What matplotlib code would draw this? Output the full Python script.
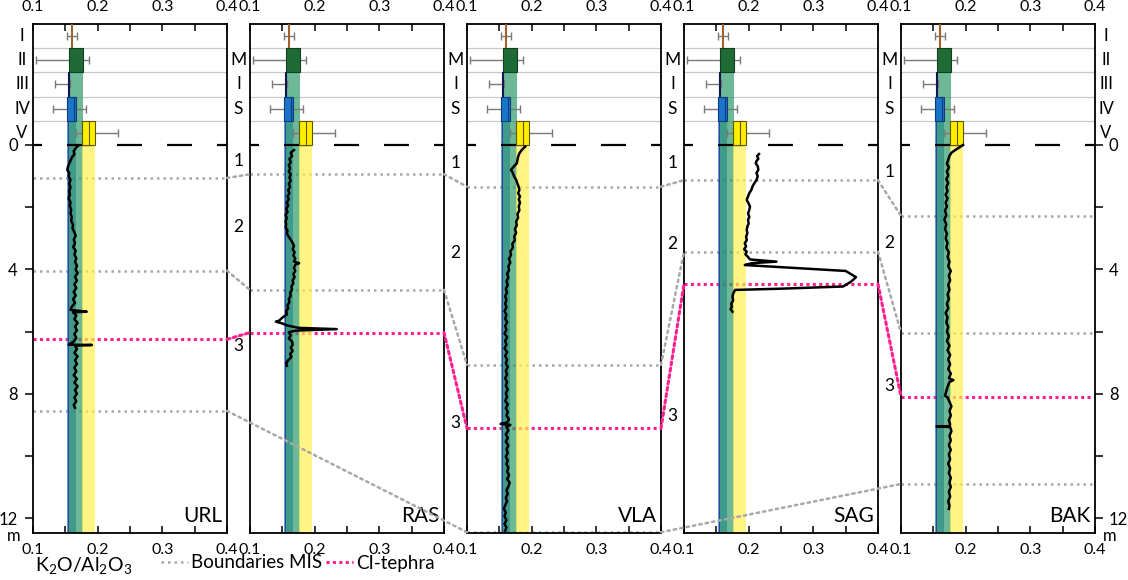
import numpy as np
import matplotlib.pyplot as plt
from matplotlib.patches import Rectangle, ConnectionPatch
from matplotlib.lines import Line2D
from matplotlib.transforms import blended_transform_factory

plt.rcParams['font.family'] = ['Lato', 'DejaVu Sans']
plt.rcParams['mathtext.fontset'] = 'custom'
plt.rcParams['mathtext.rm'] = 'Lato'
plt.rcParams['mathtext.it'] = 'Lato:italic'
plt.rcParams['mathtext.bf'] = 'Lato:bold'

DPI = 100

sites = ['URL', 'RAS', 'VLA', 'SAG', 'BAK']

# reference groups I-V (K2O/Al2O3): box q1, median, q3, whisker ends
groups = ['I', 'II', 'III', 'IV', 'V']
grp_q1 = [0.1588, 0.1557, 0.1537, 0.1521, 0.1753]
grp_med = [None, None, None, 0.1635, 0.1860]
grp_q3 = [0.1602, 0.1778, 0.1561, 0.1660, 0.1959]
grp_lo = [0.1530, 0.1046, 0.1340, 0.1314, 0.1665]
grp_hi = [0.1685, 0.1870, 0.1570, 0.1820, 0.2310]

# MIS boundaries (m) per site, NaN = not reached in that profile
mis_b1 = [1.06, 0.94, 1.34, 1.13, 2.28]
mis_b2 = [4.04, 4.66, 7.07, 3.43, 6.03]
mis_b3 = [8.55, np.nan, 12.45, np.nan, 10.90]
ci_tephra = [6.25, 6.03, 9.11, 4.47, 8.09]

# MIS numbers written between the columns (depth of each label, m)
mis_numbers = ['1', '2', '3']
mis_label_depth = [[0.51, 2.64, 6.46],
                   [0.58, 3.47, 8.94],
                   [0.58, 3.18, 8.71],
                   [0.87, 3.15, 7.75]]

# K2O/Al2O3 profiles
url_depth = [0.02, 0.10, 0.20, 0.30, 0.40, 0.50, 0.60, 0.70, 0.80, 0.90, 1.00, 1.12, 1.24,
             1.36, 1.48, 1.60, 1.72, 1.84, 1.96, 2.08, 2.20, 2.32, 2.44, 2.56, 2.68, 2.80,
             2.92, 3.04, 3.16, 3.28, 3.40, 3.52, 3.64, 3.76, 3.88, 4.00, 4.12, 4.24, 4.36,
             4.48, 4.60, 4.72, 4.84, 4.96, 5.08, 5.20, 5.30, 5.36, 5.38, 5.48, 5.60, 5.72,
             5.84, 5.96, 6.08, 6.20, 6.32, 6.42, 6.43, 6.45, 6.56, 6.68, 6.80, 6.92, 7.04,
             7.16, 7.28, 7.40, 7.52, 7.64, 7.76, 7.88, 8.00, 8.12, 8.24, 8.36, 8.45]
url_val = [0.170, 0.166, 0.163, 0.164, 0.160, 0.158, 0.156, 0.154, 0.153, 0.156, 0.155, 0.158, 0.156,
           0.158, 0.156, 0.157, 0.155, 0.158, 0.157, 0.159, 0.158, 0.160, 0.159, 0.162, 0.161, 0.164,
           0.166, 0.163, 0.165, 0.162, 0.166, 0.164, 0.167, 0.165, 0.168, 0.166, 0.169, 0.165, 0.168,
           0.164, 0.167, 0.163, 0.166, 0.162, 0.165, 0.160, 0.158, 0.183, 0.162, 0.167, 0.164, 0.169,
           0.165, 0.168, 0.164, 0.167, 0.163, 0.155, 0.191, 0.165, 0.168, 0.164, 0.169, 0.165, 0.168,
           0.164, 0.167, 0.163, 0.168, 0.164, 0.169, 0.165, 0.168, 0.164, 0.167, 0.163, 0.165]

ras_depth = [0.16, 0.25, 0.35, 0.45, 0.55, 0.65, 0.75, 0.85, 0.95, 1.05, 1.15, 1.25, 1.35,
             1.45, 1.55, 1.65, 1.75, 1.85, 1.95, 2.05, 2.15, 2.25, 2.35, 2.45, 2.55, 2.65,
             2.75, 2.85, 2.95, 3.05, 3.15, 3.25, 3.35, 3.45, 3.55, 3.65, 3.75, 3.80, 3.85,
             3.95, 4.05, 4.15, 4.25, 4.35, 4.45, 4.55, 4.65, 4.75, 4.85, 4.95, 5.05, 5.15,
             5.25, 5.35, 5.45, 5.55, 5.65, 5.68, 5.74, 5.80, 5.88, 5.92, 5.97, 6.02, 6.12,
             6.22, 6.32, 6.42, 6.52, 6.62, 6.72, 6.82, 6.92, 7.02, 7.10]
ras_val = [0.168, 0.163, 0.165, 0.161, 0.163, 0.160, 0.162, 0.160, 0.163, 0.161, 0.163, 0.160, 0.162,
           0.159, 0.161, 0.158, 0.160, 0.157, 0.159, 0.156, 0.158, 0.155, 0.157, 0.155, 0.156, 0.155,
           0.158, 0.157, 0.160, 0.163, 0.166, 0.168, 0.166, 0.169, 0.167, 0.170, 0.168, 0.176, 0.170,
           0.168, 0.170, 0.167, 0.169, 0.166, 0.167, 0.164, 0.165, 0.162, 0.163, 0.160, 0.161, 0.158,
           0.159, 0.156, 0.157, 0.150, 0.145, 0.140, 0.150, 0.157, 0.175, 0.234, 0.170, 0.160, 0.163,
           0.160, 0.165, 0.166, 0.163, 0.166, 0.162, 0.164, 0.159, 0.156, 0.157]

vla_depth = [0.05, 0.15, 0.27, 0.38, 0.48, 0.59, 0.70, 0.80, 0.90, 1.02, 1.12, 1.24, 1.35,
             1.45, 1.55, 1.65, 1.75, 1.85, 1.98, 2.10, 2.22, 2.34, 2.46, 2.58, 2.70, 2.82,
             2.94, 3.06, 3.18, 3.30, 3.42, 3.54, 3.66, 3.78, 3.90, 4.02, 4.14, 4.26, 4.38,
             4.50, 4.62, 4.74, 4.86, 4.98, 5.10, 5.22, 5.34, 5.46, 5.58, 5.70, 5.82, 5.94,
             6.06, 6.18, 6.30, 6.42, 6.54, 6.66, 6.78, 6.90, 7.02, 7.14, 7.26, 7.38, 7.50,
             7.62, 7.74, 7.86, 7.98, 8.10, 8.22, 8.34, 8.46, 8.58, 8.70, 8.82, 8.92, 8.97,
             9.00, 9.06, 9.18, 9.30, 9.42, 9.54, 9.66, 9.78, 9.90, 10.02, 10.14, 10.26, 10.38,
             10.50, 10.62, 10.74, 10.86, 10.98, 11.10, 11.22, 11.34, 11.46, 11.58, 11.70,
             11.82, 11.94, 12.06, 12.18, 12.30, 12.40]
vla_val = [0.190, 0.185, 0.181, 0.179, 0.178, 0.177, 0.172, 0.168, 0.171, 0.173, 0.176, 0.178, 0.180,
           0.181, 0.179, 0.182, 0.180, 0.182, 0.180, 0.181, 0.178, 0.179, 0.176, 0.177, 0.174, 0.176,
           0.173, 0.174, 0.170, 0.171, 0.167, 0.168, 0.165, 0.167, 0.164, 0.165, 0.162, 0.164, 0.161,
           0.163, 0.160, 0.162, 0.159, 0.161, 0.159, 0.161, 0.158, 0.161, 0.159, 0.162, 0.159, 0.161,
           0.158, 0.162, 0.159, 0.161, 0.158, 0.162, 0.159, 0.162, 0.160, 0.163, 0.160, 0.162, 0.159,
           0.162, 0.160, 0.163, 0.160, 0.162, 0.159, 0.163, 0.160, 0.163, 0.161, 0.165, 0.162, 0.152,
           0.167, 0.161, 0.164, 0.160, 0.163, 0.160, 0.164, 0.161, 0.163, 0.160, 0.163, 0.161, 0.164,
           0.162, 0.165, 0.162, 0.166, 0.164, 0.161, 0.163, 0.160, 0.162, 0.159, 0.157,
           0.160, 0.158, 0.161, 0.158, 0.161, 0.159]

sag_depth = [0.29, 0.36, 0.44, 0.52, 0.59, 0.68, 0.80, 0.90, 1.00, 1.13, 1.22, 1.33, 1.45,
             1.55, 1.65, 1.77, 1.88, 1.98, 2.09, 2.20, 2.31, 2.41, 2.52, 2.62, 2.73, 2.84,
             2.95, 3.06, 3.16, 3.26, 3.35, 3.43, 3.52, 3.60, 3.68, 3.75, 3.80, 3.86, 4.05,
             4.20, 4.25, 4.40, 4.55, 4.62, 4.66, 4.78, 4.88, 5.00, 5.10, 5.20, 5.28, 5.36]
sag_val = [0.216, 0.213, 0.215, 0.212, 0.211, 0.214, 0.215, 0.212, 0.214, 0.212, 0.209, 0.206, 0.204,
           0.201, 0.199, 0.197, 0.200, 0.202, 0.201, 0.199, 0.201, 0.199, 0.200, 0.198, 0.197, 0.198,
           0.196, 0.197, 0.194, 0.196, 0.193, 0.197, 0.195, 0.199, 0.202, 0.243, 0.205, 0.194, 0.350,
           0.362, 0.366, 0.358, 0.346, 0.250, 0.179, 0.176, 0.175, 0.176, 0.173, 0.174, 0.172, 0.175]

bak_depth = [0.00, 0.08, 0.16, 0.25, 0.35, 0.48, 0.60, 0.72, 0.85, 0.98, 1.10, 1.22, 1.35,
             1.48, 1.60, 1.72, 1.85, 1.98, 2.10, 2.25, 2.40, 2.55, 2.70, 2.85, 3.00, 3.15,
             3.30, 3.45, 3.60, 3.75, 3.90, 4.05, 4.20, 4.35, 4.50, 4.65, 4.80, 4.95, 5.10,
             5.25, 5.40, 5.55, 5.70, 5.85, 6.00, 6.15, 6.30, 6.45, 6.60, 6.75, 6.90, 7.05,
             7.20, 7.35, 7.50, 7.56, 7.62, 7.78, 7.92, 8.06, 8.12, 8.26, 8.40, 8.55, 8.70,
             8.85, 8.98, 9.04, 9.05, 9.07, 9.20, 9.35, 9.50, 9.65, 9.80, 9.95, 10.10, 10.25,
             10.40, 10.55, 10.70, 10.85, 11.00, 11.15, 11.30, 11.45, 11.60, 11.70]
bak_val = [0.196, 0.190, 0.184, 0.178, 0.175, 0.173, 0.171, 0.174, 0.171, 0.173, 0.170, 0.173, 0.170,
           0.172, 0.169, 0.172, 0.169, 0.171, 0.168, 0.170, 0.167, 0.170, 0.168, 0.171, 0.169, 0.172,
           0.170, 0.174, 0.172, 0.175, 0.173, 0.177, 0.174, 0.176, 0.173, 0.175, 0.172, 0.174, 0.171,
           0.173, 0.169, 0.172, 0.170, 0.173, 0.171, 0.174, 0.171, 0.175, 0.172, 0.176, 0.173, 0.176,
           0.173, 0.177, 0.174, 0.181, 0.175, 0.172, 0.170, 0.168, 0.172, 0.175, 0.178, 0.175, 0.177,
           0.174, 0.176, 0.175, 0.155, 0.176, 0.178, 0.175, 0.177, 0.174, 0.177, 0.174, 0.176, 0.173,
           0.176, 0.174, 0.177, 0.175, 0.177, 0.174, 0.176, 0.173, 0.175, 0.174]

prof_depth = [url_depth, ras_depth, vla_depth, sag_depth, bak_depth]
prof_val = [url_val, ras_val, vla_val, sag_val, bak_val]

# colours of the reference groups
box_face = ['#a0622d', '#1e6b35', '#1a237e', '#1a74c9', '#ffee00']
box_edge = ['#a0622d', '#123f20', '#10164f', '#0d3d7a', '#5e5600']
band_col = [None, '#2f9a6a', '#1a237e', '#1f6fc0', '#fff050']
band_alpha = [0, 0.7, 0.7, 0.7, 0.7]
band_order = [3, 2, 1, 4]
mis_col = '#a8a8a8'
ci_col = '#ff1f8f'
mis_ls = (0, (1, 1.6))
ci_ls = (0, (1, 1.1))

# layout in pixels of the original figure
W, H = 1128, 580
left_px = [33, 250, 467, 684, 901]
w_px = 194
top_px, bot_px, zero_px = 24, 533, 145
px_per_m = 31.1
y_top = -(zero_px - top_px) / px_per_m
y_bot = (bot_px - zero_px) / px_per_m
row_h = -y_top / 5

fig = plt.figure(figsize=(W / DPI, H / DPI), dpi=DPI)
axes = []
for lp in left_px:
    ax = fig.add_axes([lp / W, (H - bot_px) / H, w_px / W, (bot_px - top_px) / H])
    axes.append(ax)

for k, (ax, site) in enumerate(zip(axes, sites)):
    ax.set_xlim(0.1, 0.4)
    ax.set_ylim(y_bot, y_top)

    # separators of the reference rows
    for i in range(1, 5):
        ax.axhline(y_top + i * row_h, color='#c8c8c8', lw=0.9, zorder=0.8)

    # IQR bands running down through the profile
    for i in band_order:
        ax.fill_betweenx([y_top + i * row_h, y_bot], grp_q1[i], grp_q3[i],
                         color=band_col[i], alpha=band_alpha[i], lw=0, zorder=1)

    # whiskers and boxes of the reference groups
    for i in range(5):
        yc = y_top + (i + 0.5) * row_h
        xc = (grp_q1[i] + grp_q3[i]) / 2
        ax.errorbar(xc, yc, xerr=[[xc - grp_lo[i]], [grp_hi[i] - xc]], fmt='none',
                    ecolor='#7a7a7a', elinewidth=1.0, capsize=3, capthick=1.0, zorder=2.5)
        ax.add_patch(Rectangle((grp_q1[i], y_top + i * row_h), grp_q3[i] - grp_q1[i], row_h,
                               facecolor=box_face[i], edgecolor=box_edge[i], lw=0.8, zorder=3))
        if grp_med[i] is not None:
            ax.plot([grp_med[i]] * 2, [y_top + i * row_h, y_top + (i + 1) * row_h],
                    color=box_edge[i], lw=0.8, zorder=3.1)

    # top of the profiles
    ax.plot([0.1, 0.4], [0, 0], color='black', lw=1.6, linestyle=(7.2, (11.25, 11.25)), zorder=2)

    # MIS boundaries and CI tephra
    for chain, col, ls, lw in [(mis_b1, mis_col, mis_ls, 1.8), (mis_b2, mis_col, mis_ls, 1.8),
                               (mis_b3, mis_col, mis_ls, 1.8), (ci_tephra, ci_col, ci_ls, 2.2)]:
        if not np.isnan(chain[k]):
            ax.plot([0.1, 0.4], [chain[k]] * 2, color=col, lw=lw, linestyle=ls, zorder=0.9)

    ax.plot(prof_val[k], prof_depth[k], color='black', lw=1.8, zorder=5)

    ax.text(0.978, 0.022, site, transform=ax.transAxes, ha='right', va='baseline', fontsize=15)

    ax.set_xticks([0.1, 0.2, 0.3, 0.4])
    ax.set_xticklabels(['0.1', '0.2', '0.3', '0.4'])
    ax.set_xticks([0.15, 0.25, 0.35], minor=True)
    ax.tick_params(axis='x', which='both', direction='in', top=True, bottom=True,
                   labeltop=True, labelbottom=True, length=5, width=1.1, pad=7, labelsize=11.5)
    ax.set_yticks([])
    for sp in ax.spines.values():
        sp.set_linewidth(1.3)

# connecting lines between the columns
for chain, col, ls, lw in [(mis_b1, mis_col, mis_ls, 1.8), (mis_b2, mis_col, mis_ls, 1.8),
                           (mis_b3, mis_col, mis_ls, 1.8), (ci_tephra, ci_col, ci_ls, 2.2)]:
    idx = [i for i in range(5) if not np.isnan(chain[i])]
    for a, b in zip(idx[:-1], idx[1:]):
        con = ConnectionPatch(xyA=(0.4, chain[a]), coordsA=axes[a].transData,
                              xyB=(0.1, chain[b]), coordsB=axes[b].transData,
                              color=col, lw=lw, linestyle=ls, zorder=0.9)
        fig.add_artist(con)

# depth axes on the outer columns
depth_ticks = list(range(0, 13, 2))
depth_labels = ['0', '', '4', '', '8', '', '12']
ax = axes[0]
ax.set_yticks(depth_ticks)
ax.set_yticklabels(depth_labels)
ax.tick_params(axis='y', direction='out', left=True, labelleft=True, length=6, width=1.1,
               pad=5, labelsize=12)
ax.text(-0.098, 12.56, 'm', transform=blended_transform_factory(ax.transAxes, ax.transData),
        ha='center', va='center', fontsize=12)
ax = axes[-1]
ax.yaxis.tick_right()
ax.set_yticks(depth_ticks)
ax.set_yticklabels(depth_labels)
ax.tick_params(axis='y', direction='out', right=True, labelright=True, left=False,
               length=6, width=1.1, pad=4, labelsize=12)
ax.text(1.075, 12.56, 'm', transform=blended_transform_factory(ax.transAxes, ax.transData),
        ha='center', va='center', fontsize=12)

# roman numerals of the reference groups
for i, g in enumerate(groups):
    yc = y_top + (i + 0.5) * row_h
    axes[0].text(-0.057, yc, g, transform=blended_transform_factory(axes[0].transAxes, axes[0].transData),
                 ha='center', va='center', fontsize=12)
    axes[-1].text(1.057, yc, g, transform=blended_transform_factory(axes[-1].transAxes, axes[-1].transData),
                  ha='center', va='center', fontsize=12)

# MIS labels in the gaps
for g in range(4):
    tr = blended_transform_factory(axes[g].transAxes, axes[g].transData)
    for j, letter in enumerate(['M', 'I', 'S']):
        axes[g].text(1.0593, y_top + (j + 1.5) * row_h, letter, transform=tr,
                     ha='center', va='center', fontsize=12.5)
    for num, d in zip(mis_numbers, mis_label_depth[g]):
        axes[g].text(1.0593, d, num, transform=tr, ha='center', va='center', fontsize=12.5)

# bottom legend
fig.text(35 / W, 1 - 566 / H, r'K$_2$O/Al$_2$O$_3$', ha='left', va='center', fontsize=14)
handles = [Line2D([], [], color=mis_col, lw=1.8, linestyle=mis_ls),
           Line2D([], [], color=ci_col, lw=2.2, linestyle=ci_ls)]
fig.legend(handles, ['Boundaries MIS', 'CI-tephra'], loc='center left',
           bbox_to_anchor=(161 / W, 1 - 563 / H), ncol=2, frameon=False, fontsize=13.5,
           handlelength=1.45, handletextpad=0.15, columnspacing=0.2, borderpad=0,
           borderaxespad=0)

plt.savefig('out.png', dpi=DPI)
